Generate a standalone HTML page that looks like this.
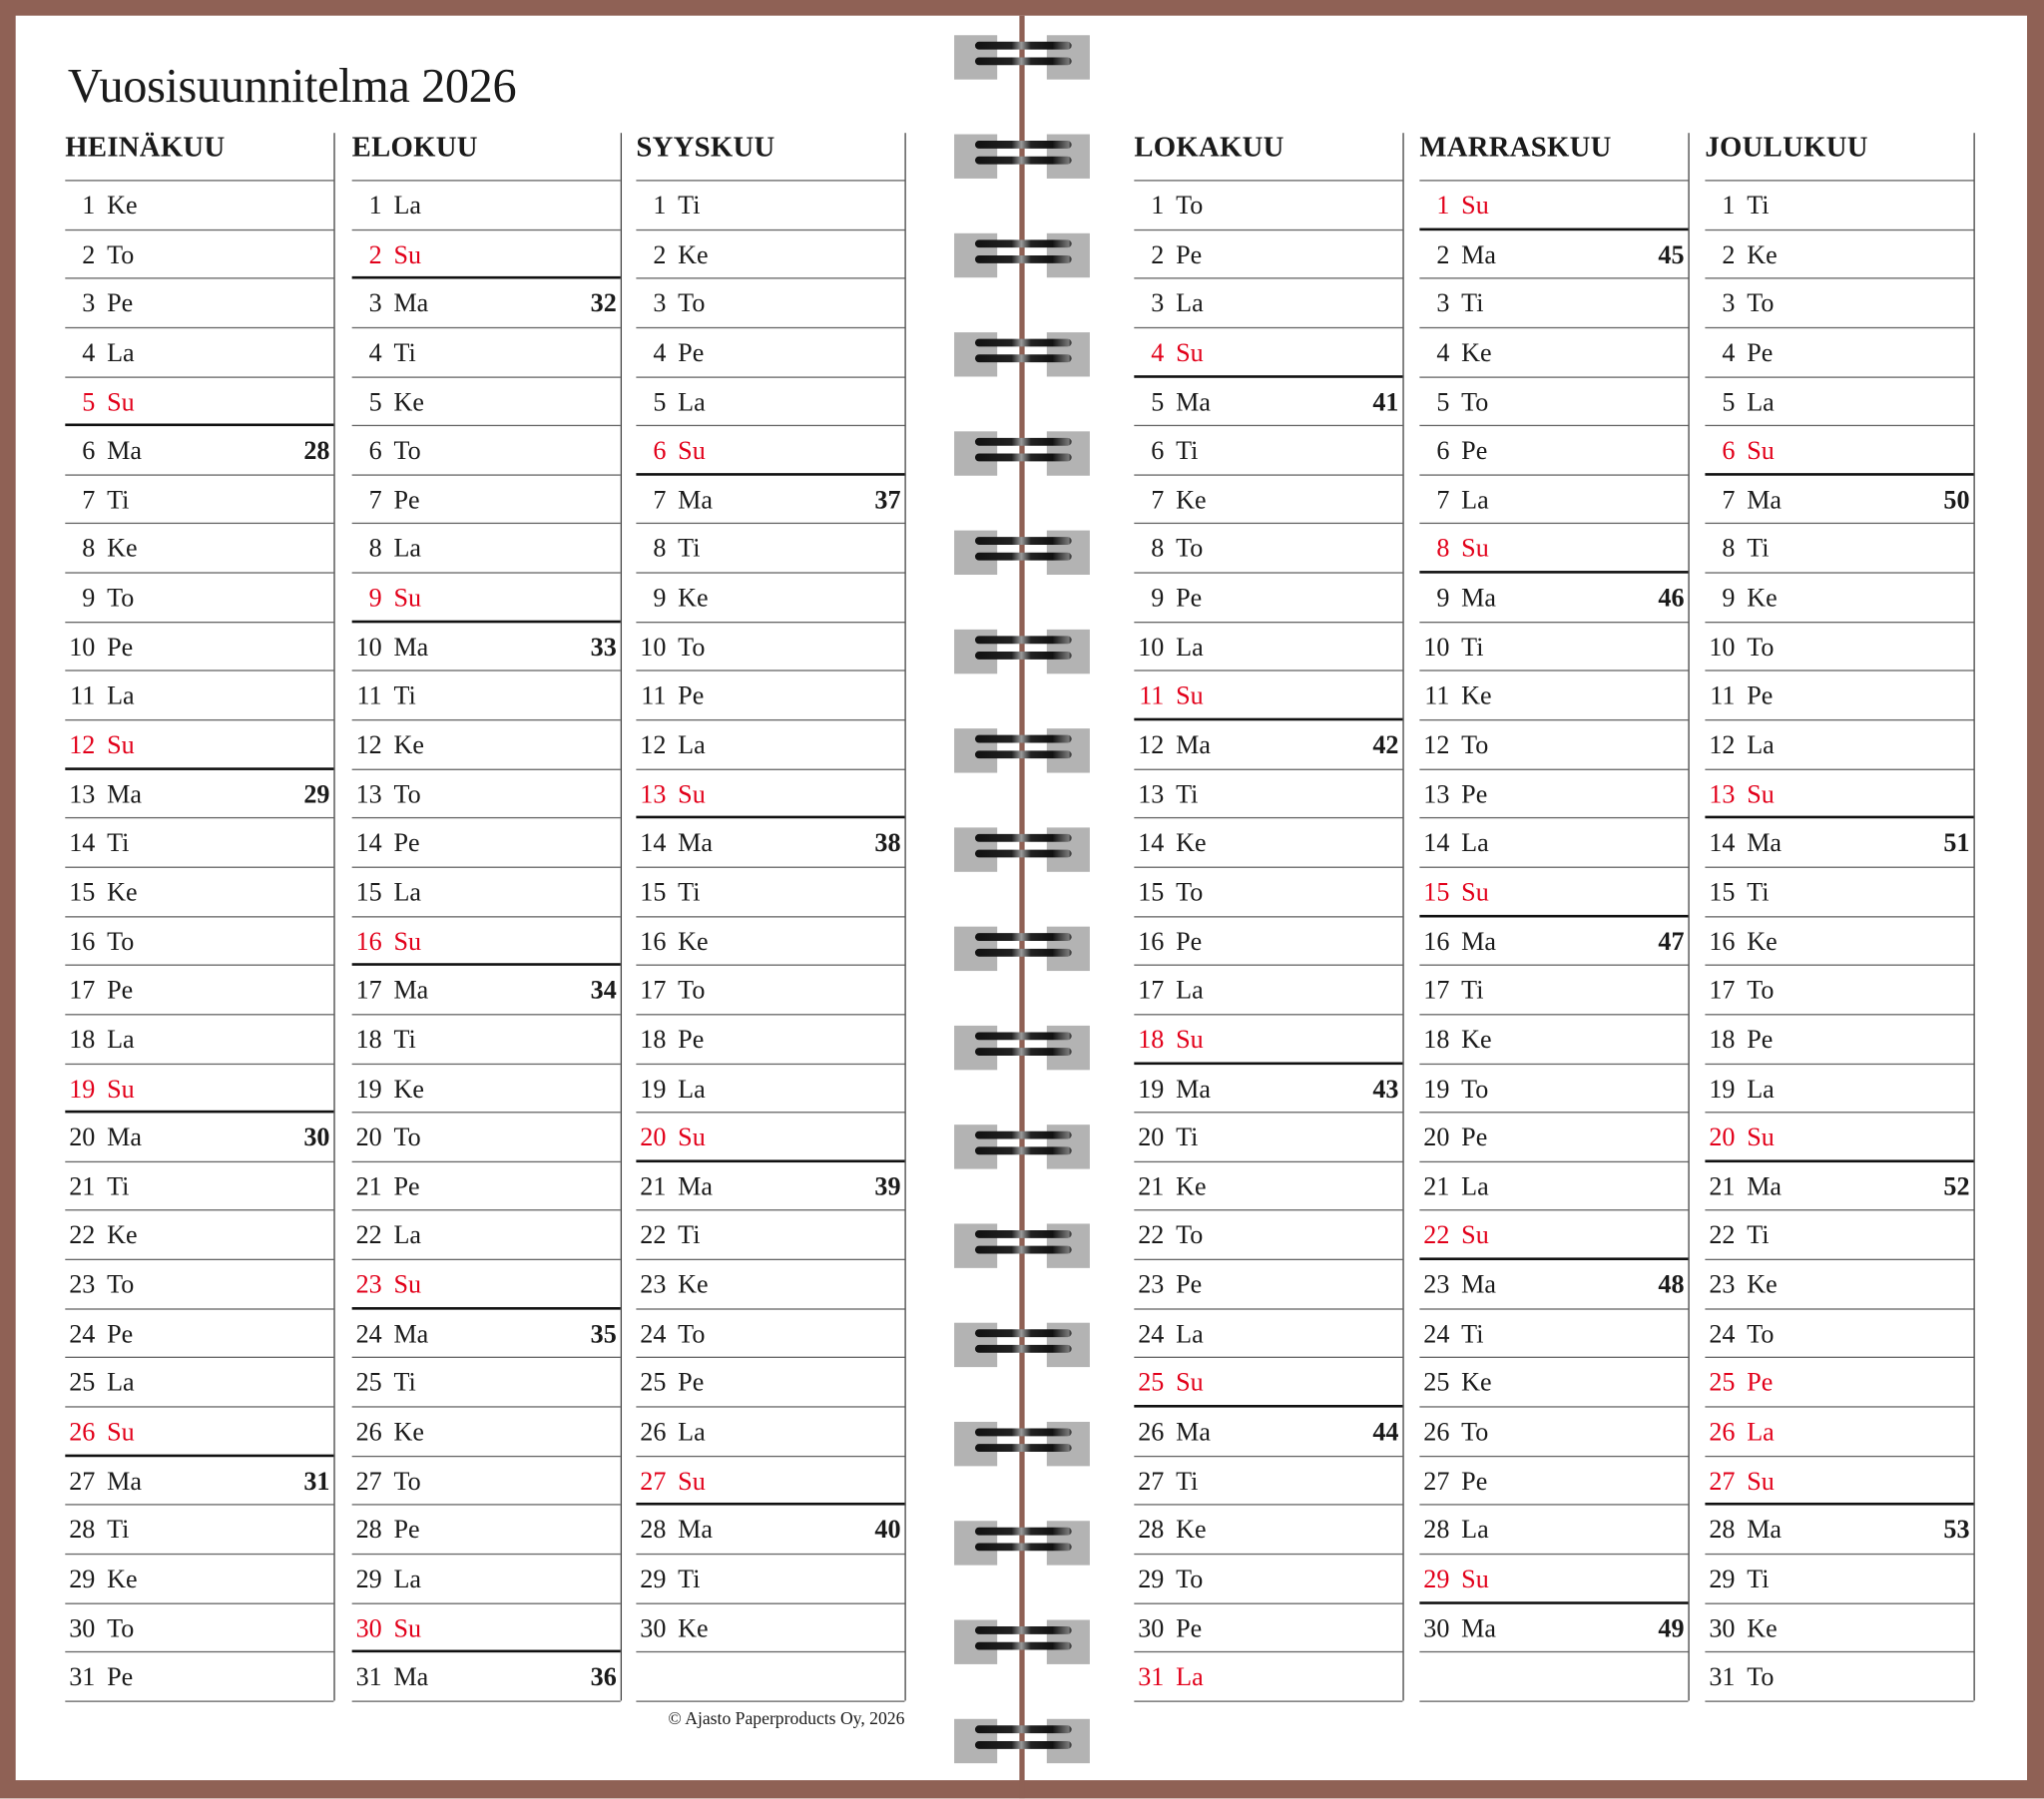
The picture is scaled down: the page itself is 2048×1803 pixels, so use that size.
<!DOCTYPE html>
<html><head><meta charset="utf-8"><style>
html,body{margin:0;padding:0;background:#fff;}
#wrap{position:relative;width:1568px;height:1380px;transform:scale(1.306122);transform-origin:0 0;background:#8f6155;overflow:hidden;font-family:"Liberation Serif",serif;color:#1a1a1a;}
#page{position:absolute;left:12px;top:12px;width:1543px;height:1354px;background:#fff;}
#spine{position:absolute;left:782px;top:12px;width:4px;height:1368px;background:#8f6155;}
h1{position:absolute;left:52px;top:43px;margin:0;font-weight:normal;font-size:37px;line-height:48px;letter-spacing:-0.3px;}
.col{position:absolute;top:102px;width:206px;height:1203px;border-right:1.5px solid #444;}
.col h2{margin:0;height:36px;font-size:22px;font-weight:bold;line-height:22px;padding-top:0;letter-spacing:0.2px;}
.rows{border-top:1.5px solid #666;}
.col p{position:relative;margin:0;height:37.65px;box-sizing:border-box;border-bottom:1.5px solid #666;font-size:20px;line-height:39px;}
.col p b{display:inline-block;width:23px;text-align:right;font-weight:normal;}
.col p i{font-style:normal;position:absolute;left:32px;}
.col p u{text-decoration:none;position:absolute;right:3px;font-weight:bold;}
.col p.s{border-bottom:2.5px solid #111;color:#e2001a;}
.col p.h{color:#e2001a;}
.col p.s u,.col p.h u{color:#1a1a1a}
.ring{position:absolute;left:732px;width:104px;height:34px;}
.ring .g1,.ring .g2{position:absolute;top:0;width:33px;height:34px;background:#b3b3b3;}
.ring .g1{left:0}.ring .g2{left:71px}
.ring .b{position:absolute;left:16px;width:74px;height:6px;border-radius:3px;background:linear-gradient(90deg,#111 0%,#222 38%,#999 48%,#222 58%,#111 80%,#777 97%,#222 100%);}
.copy{position:absolute;right:874px;top:1311px;font-size:13.5px;}
</style></head><body><div id="wrap"><div id="page"></div><div id="spine"></div>
<h1>Vuosisuunnitelma 2026</h1>

<div class="ring" style="top:27px"><div class="g1"></div><div class="g2"></div><div class="b" style="top:5px"></div><div class="b" style="top:17px"></div></div>
<div class="ring" style="top:103px"><div class="g1"></div><div class="g2"></div><div class="b" style="top:5px"></div><div class="b" style="top:17px"></div></div>
<div class="ring" style="top:179px"><div class="g1"></div><div class="g2"></div><div class="b" style="top:5px"></div><div class="b" style="top:17px"></div></div>
<div class="ring" style="top:255px"><div class="g1"></div><div class="g2"></div><div class="b" style="top:5px"></div><div class="b" style="top:17px"></div></div>
<div class="ring" style="top:331px"><div class="g1"></div><div class="g2"></div><div class="b" style="top:5px"></div><div class="b" style="top:17px"></div></div>
<div class="ring" style="top:407px"><div class="g1"></div><div class="g2"></div><div class="b" style="top:5px"></div><div class="b" style="top:17px"></div></div>
<div class="ring" style="top:483px"><div class="g1"></div><div class="g2"></div><div class="b" style="top:5px"></div><div class="b" style="top:17px"></div></div>
<div class="ring" style="top:559px"><div class="g1"></div><div class="g2"></div><div class="b" style="top:5px"></div><div class="b" style="top:17px"></div></div>
<div class="ring" style="top:635px"><div class="g1"></div><div class="g2"></div><div class="b" style="top:5px"></div><div class="b" style="top:17px"></div></div>
<div class="ring" style="top:711px"><div class="g1"></div><div class="g2"></div><div class="b" style="top:5px"></div><div class="b" style="top:17px"></div></div>
<div class="ring" style="top:787px"><div class="g1"></div><div class="g2"></div><div class="b" style="top:5px"></div><div class="b" style="top:17px"></div></div>
<div class="ring" style="top:863px"><div class="g1"></div><div class="g2"></div><div class="b" style="top:5px"></div><div class="b" style="top:17px"></div></div>
<div class="ring" style="top:939px"><div class="g1"></div><div class="g2"></div><div class="b" style="top:5px"></div><div class="b" style="top:17px"></div></div>
<div class="ring" style="top:1015px"><div class="g1"></div><div class="g2"></div><div class="b" style="top:5px"></div><div class="b" style="top:17px"></div></div>
<div class="ring" style="top:1091px"><div class="g1"></div><div class="g2"></div><div class="b" style="top:5px"></div><div class="b" style="top:17px"></div></div>
<div class="ring" style="top:1167px"><div class="g1"></div><div class="g2"></div><div class="b" style="top:5px"></div><div class="b" style="top:17px"></div></div>
<div class="ring" style="top:1243px"><div class="g1"></div><div class="g2"></div><div class="b" style="top:5px"></div><div class="b" style="top:17px"></div></div>
<div class="ring" style="top:1319px"><div class="g1"></div><div class="g2"></div><div class="b" style="top:5px"></div><div class="b" style="top:17px"></div></div>

<div class="col" style="left:50px"><h2>HEINÄKUU</h2><div class="rows">
<p><b>1</b><i>Ke</i></p><p><b>2</b><i>To</i></p><p><b>3</b><i>Pe</i></p><p><b>4</b><i>La</i></p><p class="s"><b>5</b><i>Su</i></p>
<p><b>6</b><i>Ma</i><u>28</u></p><p><b>7</b><i>Ti</i></p><p><b>8</b><i>Ke</i></p><p><b>9</b><i>To</i></p><p><b>10</b><i>Pe</i></p><p><b>11</b><i>La</i></p><p class="s"><b>12</b><i>Su</i></p>
<p><b>13</b><i>Ma</i><u>29</u></p><p><b>14</b><i>Ti</i></p><p><b>15</b><i>Ke</i></p><p><b>16</b><i>To</i></p><p><b>17</b><i>Pe</i></p><p><b>18</b><i>La</i></p><p class="s"><b>19</b><i>Su</i></p>
<p><b>20</b><i>Ma</i><u>30</u></p><p><b>21</b><i>Ti</i></p><p><b>22</b><i>Ke</i></p><p><b>23</b><i>To</i></p><p><b>24</b><i>Pe</i></p><p><b>25</b><i>La</i></p><p class="s"><b>26</b><i>Su</i></p>
<p><b>27</b><i>Ma</i><u>31</u></p><p><b>28</b><i>Ti</i></p><p><b>29</b><i>Ke</i></p><p><b>30</b><i>To</i></p><p><b>31</b><i>Pe</i></p>
</div></div>

<div class="col" style="left:270px"><h2>ELOKUU</h2><div class="rows">
<p><b>1</b><i>La</i></p><p class="s"><b>2</b><i>Su</i></p>
<p><b>3</b><i>Ma</i><u>32</u></p><p><b>4</b><i>Ti</i></p><p><b>5</b><i>Ke</i></p><p><b>6</b><i>To</i></p><p><b>7</b><i>Pe</i></p><p><b>8</b><i>La</i></p><p class="s"><b>9</b><i>Su</i></p>
<p><b>10</b><i>Ma</i><u>33</u></p><p><b>11</b><i>Ti</i></p><p><b>12</b><i>Ke</i></p><p><b>13</b><i>To</i></p><p><b>14</b><i>Pe</i></p><p><b>15</b><i>La</i></p><p class="s"><b>16</b><i>Su</i></p>
<p><b>17</b><i>Ma</i><u>34</u></p><p><b>18</b><i>Ti</i></p><p><b>19</b><i>Ke</i></p><p><b>20</b><i>To</i></p><p><b>21</b><i>Pe</i></p><p><b>22</b><i>La</i></p><p class="s"><b>23</b><i>Su</i></p>
<p><b>24</b><i>Ma</i><u>35</u></p><p><b>25</b><i>Ti</i></p><p><b>26</b><i>Ke</i></p><p><b>27</b><i>To</i></p><p><b>28</b><i>Pe</i></p><p><b>29</b><i>La</i></p><p class="s"><b>30</b><i>Su</i></p>
<p><b>31</b><i>Ma</i><u>36</u></p>
</div></div>

<div class="col" style="left:488px"><h2>SYYSKUU</h2><div class="rows">
<p><b>1</b><i>Ti</i></p><p><b>2</b><i>Ke</i></p><p><b>3</b><i>To</i></p><p><b>4</b><i>Pe</i></p><p><b>5</b><i>La</i></p><p class="s"><b>6</b><i>Su</i></p>
<p><b>7</b><i>Ma</i><u>37</u></p><p><b>8</b><i>Ti</i></p><p><b>9</b><i>Ke</i></p><p><b>10</b><i>To</i></p><p><b>11</b><i>Pe</i></p><p><b>12</b><i>La</i></p><p class="s"><b>13</b><i>Su</i></p>
<p><b>14</b><i>Ma</i><u>38</u></p><p><b>15</b><i>Ti</i></p><p><b>16</b><i>Ke</i></p><p><b>17</b><i>To</i></p><p><b>18</b><i>Pe</i></p><p><b>19</b><i>La</i></p><p class="s"><b>20</b><i>Su</i></p>
<p><b>21</b><i>Ma</i><u>39</u></p><p><b>22</b><i>Ti</i></p><p><b>23</b><i>Ke</i></p><p><b>24</b><i>To</i></p><p><b>25</b><i>Pe</i></p><p><b>26</b><i>La</i></p><p class="s"><b>27</b><i>Su</i></p>
<p><b>28</b><i>Ma</i><u>40</u></p><p><b>29</b><i>Ti</i></p><p><b>30</b><i>Ke</i></p><p></p>
</div></div>

<div class="col" style="left:870px"><h2>LOKAKUU</h2><div class="rows">
<p><b>1</b><i>To</i></p><p><b>2</b><i>Pe</i></p><p><b>3</b><i>La</i></p><p class="s"><b>4</b><i>Su</i></p>
<p><b>5</b><i>Ma</i><u>41</u></p><p><b>6</b><i>Ti</i></p><p><b>7</b><i>Ke</i></p><p><b>8</b><i>To</i></p><p><b>9</b><i>Pe</i></p><p><b>10</b><i>La</i></p><p class="s"><b>11</b><i>Su</i></p>
<p><b>12</b><i>Ma</i><u>42</u></p><p><b>13</b><i>Ti</i></p><p><b>14</b><i>Ke</i></p><p><b>15</b><i>To</i></p><p><b>16</b><i>Pe</i></p><p><b>17</b><i>La</i></p><p class="s"><b>18</b><i>Su</i></p>
<p><b>19</b><i>Ma</i><u>43</u></p><p><b>20</b><i>Ti</i></p><p><b>21</b><i>Ke</i></p><p><b>22</b><i>To</i></p><p><b>23</b><i>Pe</i></p><p><b>24</b><i>La</i></p><p class="s"><b>25</b><i>Su</i></p>
<p><b>26</b><i>Ma</i><u>44</u></p><p><b>27</b><i>Ti</i></p><p><b>28</b><i>Ke</i></p><p><b>29</b><i>To</i></p><p><b>30</b><i>Pe</i></p><p class="h"><b>31</b><i>La</i></p>
</div></div>

<div class="col" style="left:1089px"><h2>MARRASKUU</h2><div class="rows">
<p class="s"><b>1</b><i>Su</i></p>
<p><b>2</b><i>Ma</i><u>45</u></p><p><b>3</b><i>Ti</i></p><p><b>4</b><i>Ke</i></p><p><b>5</b><i>To</i></p><p><b>6</b><i>Pe</i></p><p><b>7</b><i>La</i></p><p class="s"><b>8</b><i>Su</i></p>
<p><b>9</b><i>Ma</i><u>46</u></p><p><b>10</b><i>Ti</i></p><p><b>11</b><i>Ke</i></p><p><b>12</b><i>To</i></p><p><b>13</b><i>Pe</i></p><p><b>14</b><i>La</i></p><p class="s"><b>15</b><i>Su</i></p>
<p><b>16</b><i>Ma</i><u>47</u></p><p><b>17</b><i>Ti</i></p><p><b>18</b><i>Ke</i></p><p><b>19</b><i>To</i></p><p><b>20</b><i>Pe</i></p><p><b>21</b><i>La</i></p><p class="s"><b>22</b><i>Su</i></p>
<p><b>23</b><i>Ma</i><u>48</u></p><p><b>24</b><i>Ti</i></p><p><b>25</b><i>Ke</i></p><p><b>26</b><i>To</i></p><p><b>27</b><i>Pe</i></p><p><b>28</b><i>La</i></p><p class="s"><b>29</b><i>Su</i></p>
<p><b>30</b><i>Ma</i><u>49</u></p><p></p>
</div></div>

<div class="col" style="left:1308px"><h2>JOULUKUU</h2><div class="rows">
<p><b>1</b><i>Ti</i></p><p><b>2</b><i>Ke</i></p><p><b>3</b><i>To</i></p><p><b>4</b><i>Pe</i></p><p><b>5</b><i>La</i></p><p class="s"><b>6</b><i>Su</i></p>
<p><b>7</b><i>Ma</i><u>50</u></p><p><b>8</b><i>Ti</i></p><p><b>9</b><i>Ke</i></p><p><b>10</b><i>To</i></p><p><b>11</b><i>Pe</i></p><p><b>12</b><i>La</i></p><p class="s"><b>13</b><i>Su</i></p>
<p><b>14</b><i>Ma</i><u>51</u></p><p><b>15</b><i>Ti</i></p><p><b>16</b><i>Ke</i></p><p><b>17</b><i>To</i></p><p><b>18</b><i>Pe</i></p><p><b>19</b><i>La</i></p><p class="s"><b>20</b><i>Su</i></p>
<p><b>21</b><i>Ma</i><u>52</u></p><p><b>22</b><i>Ti</i></p><p><b>23</b><i>Ke</i></p><p><b>24</b><i>To</i></p><p class="h"><b>25</b><i>Pe</i></p><p class="h"><b>26</b><i>La</i></p><p class="s"><b>27</b><i>Su</i></p>
<p><b>28</b><i>Ma</i><u>53</u></p><p><b>29</b><i>Ti</i></p><p><b>30</b><i>Ke</i></p><p><b>31</b><i>To</i></p>
</div></div>

<div class="copy">© Ajasto Paperproducts Oy, 2026</div>
</div></body></html>
